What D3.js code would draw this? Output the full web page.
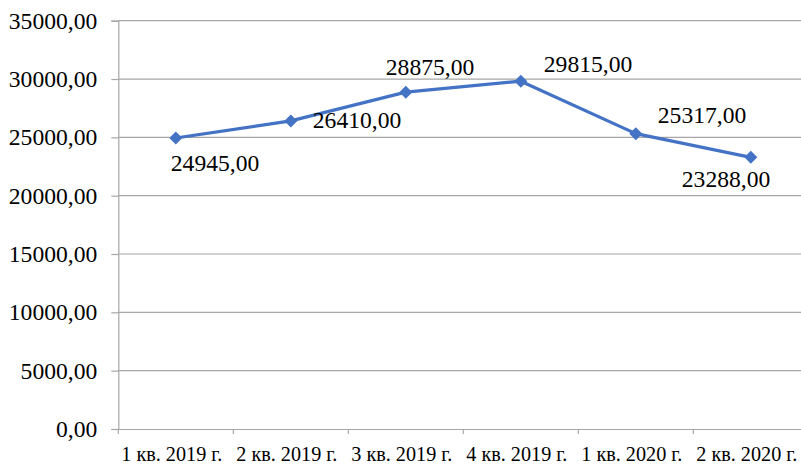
<!DOCTYPE html>
<html>
<head>
<meta charset="utf-8">
<script src="https://cdn.jsdelivr.net/npm/d3@7"></script>
<style>
html,body{margin:0;padding:0;background:#fff;}
svg{display:block;}
text{font-family:"Liberation Serif","Times New Roman",serif;fill:#000;}
</style>
</head>
<body>
<svg id="chart" width="801" height="464"></svg>
<script>
const categories = ["1 кв. 2019 г.", "2 кв. 2019 г.", "3 кв. 2019 г.", "4 кв. 2019 г.", "1 кв. 2020 г.", "2 кв. 2020 г."];
const values = [24945, 26410, 28875, 29815, 25317, 23288];
const yTicks = [0, 5000, 10000, 15000, 20000, 25000, 30000, 35000];
// label placement offsets (px) relative to each point
const labelDx = [-5, 22, -20, 23, 22, -69];
const labelDy = [33, 7, -17, -9, -11, 30];

(function () {
const svg = d3.select("#chart");
const mLeft = 118.3, mRight = 808.3, mTop = 20.7, mBottom = 429;

const x = d3.scaleBand().domain(categories).range([mLeft, mRight]).padding(0);
const y = d3.scaleLinear().domain([0, 35000]).range([mBottom, mTop]);
const fmt = v => d3.format(".2f")(v).replace(".", ",");

// gridlines
svg.append("g").selectAll("line").data(yTicks.filter(t => t > 0)).join("line")
  .attr("x1", mLeft).attr("x2", mRight)
  .attr("y1", d => y(d)).attr("y2", d => y(d))
  .attr("stroke", "#a6a6a6").attr("stroke-width", 1.2);

// y axis
const yAxis = svg.append("g").attr("transform", `translate(${mLeft},0)`)
  .call(d3.axisLeft(y).tickValues(yTicks).tickSize(7).tickPadding(14).tickFormat(fmt));
yAxis.attr("font-family", null);
yAxis.select(".domain").attr("stroke", "#a6a6a6").attr("stroke-width", 1.2);
yAxis.selectAll(".tick line").attr("stroke", "#a6a6a6").attr("stroke-width", 1.2);
yAxis.selectAll(".tick text").attr("font-size", 23.6).attr("fill", "#000");

// x axis
const xAxis = svg.append("g").attr("transform", `translate(0,${mBottom})`)
  .call(d3.axisBottom(x).tickSize(0).tickPadding(0));
xAxis.attr("font-family", null);
xAxis.select(".domain").attr("stroke", "#a6a6a6").attr("stroke-width", 1.2);
xAxis.selectAll(".tick text").attr("font-size", 20.2)
  .attr("fill", "#000").attr("dy", 0).attr("y", 31.5).attr("dx", -4);
// category boundary ticks
svg.append("g").selectAll("line").data(categories).join("line")
  .attr("x1", d => x(d)).attr("x2", d => x(d))
  .attr("y1", mBottom).attr("y2", mBottom + 5)
  .attr("stroke", "#a6a6a6").attr("stroke-width", 1.2);

// line
const cx = d => x(d) + x.bandwidth() / 2;
svg.append("path").datum(values)
  .attr("fill", "none").attr("stroke", "#4472c4").attr("stroke-width", 3.2)
  .attr("stroke-linejoin", "round")
  .attr("d", d3.line().x((d, i) => cx(categories[i])).y(d => y(d)));

// markers
svg.append("g").selectAll("path").data(values).join("path")
  .attr("transform", (d, i) => `translate(${cx(categories[i])},${y(d)})`)
  .attr("d", "M0,-6.5L6.5,0L0,6.5L-6.5,0Z")
  .attr("fill", "#4472c4");

// data labels
svg.append("g").selectAll("text").data(values).join("text")
  .attr("x", (d, i) => cx(categories[i]) + labelDx[i])
  .attr("y", (d, i) => y(d) + labelDy[i])
  .attr("font-size", 23.6)
  .text(d => fmt(d));
})();
</script>
</body>
</html>
